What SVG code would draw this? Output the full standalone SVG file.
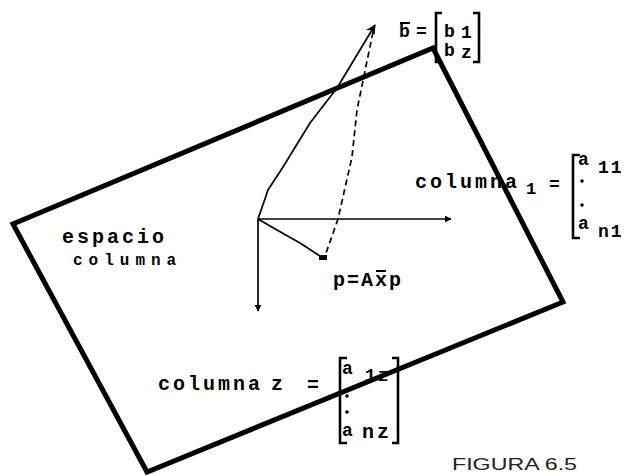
<svg xmlns="http://www.w3.org/2000/svg" width="628" height="476" viewBox="0 0 628 476">
<defs>
<style>
.t{font-family:"Liberation Mono","DejaVu Sans Mono",monospace;font-weight:bold;fill:#000}
.big{font-size:20px;letter-spacing:3px}
.ent{font-size:18px;letter-spacing:2px}
.edge{fill:none;stroke:#000;stroke-width:5;stroke-linejoin:miter}
.vec{fill:none;stroke:#000;stroke-width:1.7;stroke-linejoin:round}
.dash{fill:none;stroke:#000;stroke-width:1.7;stroke-dasharray:6 4}
.brk{fill:none;stroke:#000;stroke-width:2.6}
.fig{font-family:"Liberation Sans",Arial,sans-serif;font-size:16px;fill:#222}
</style>
<marker id="ah" viewBox="0 0 10 10" refX="9" refY="5" markerWidth="7" markerHeight="7" markerUnits="userSpaceOnUse" orient="auto">
<path d="M0,0 L10,5 L0,10 Z" fill="#000"/>
</marker>
<marker id="ah2" viewBox="0 0 10 10" refX="9" refY="5" markerWidth="10" markerHeight="10" markerUnits="userSpaceOnUse" orient="auto">
<path d="M0,0 L10,5 L0,10 L3,5 Z" fill="#000"/>
</marker>
</defs>

<g id="plane">
<path class="edge" d="M433,48 L563,302 L147,472 L13,224 Z"/>
</g>

<g id="connectors">
<path class="vec" d="M258,219 L268,190 L283,167 L310,123 L337,88 L375,25" marker-end="url(#ah2)"/>
<path class="dash" d="M373,32 L357,110 L352,157 L338,219 L325,256"/>
<path class="vec" d="M258,219 L277,230 L300,243 L323,258"/>
<path class="vec" d="M258,219 L451,219" marker-end="url(#ah)"/>
<path class="vec" d="M258,219 L258,311" marker-end="url(#ah)"/>
<rect x="319" y="255" width="8" height="5" fill="#000"/>
</g>

<g id="label-b">
<text class="t" x="399" y="37" font-size="18">b</text>
<line x1="400" y1="23" x2="410" y2="23" stroke="#000" stroke-width="2"/>
<text class="t" x="416" y="37" font-size="18">=</text>
<path class="brk" d="M442,13 L436,13 L436,62 L442,62"/>
<path class="brk" d="M473,13 L479,13 L479,62 L473,62"/>
<text class="t" x="444" y="37" font-size="18">b</text>
<text class="t" x="461" y="38" font-size="18">1</text>
<text class="t" x="444" y="56" font-size="18">b</text>
<text class="t" x="461" y="58" font-size="18">z</text>
</g>

<g id="label-espacio">
<text class="t big" x="62" y="243">espacio</text>
<text class="t" x="73" y="265" font-size="16" letter-spacing="6">columna</text>
</g>

<g id="label-p">
<text class="t" x="333" y="286" font-size="20" letter-spacing="2">p=Axp</text>
<line x1="376" y1="271" x2="386" y2="271" stroke="#000" stroke-width="2"/>
</g>

<g id="label-col1">
<text class="t big" x="415" y="188">columna</text>
<text class="t" x="526" y="194" font-size="17">1</text>
<text class="t" x="549" y="190" font-size="18">=</text>
<path class="brk" d="M580,155 L573,155 L573,238 L580,238"/>
<text class="t" x="578" y="165" font-size="18">a</text>
<text class="t ent" x="598" y="173">11</text>
<circle cx="582" cy="181" r="1.8"/>
<circle cx="582" cy="205" r="1.8"/>
<text class="t" x="578" y="229" font-size="18">a</text>
<text class="t ent" x="598" y="237">n1</text>
</g>

<g id="label-col2">
<text class="t big" x="158" y="390">columna</text>
<text class="t" x="271" y="390" font-size="20">z</text>
<text class="t" x="307" y="391" font-size="20">=</text>
<path class="brk" d="M347,358 L340,358 L340,443 L347,443"/>
<path class="brk" d="M392,358 L398,358 L398,443 L392,443"/>
<text class="t" x="342" y="374" font-size="18">a</text>
<text class="t ent" x="365" y="381">1z</text>
<circle cx="347" cy="396" r="1.8"/>
<circle cx="347" cy="412" r="1.8"/>
<text class="t" x="342" y="436" font-size="18">a</text>
<text class="t" x="362" y="438" font-size="20" letter-spacing="3">nz</text>
</g>

<g id="caption">
<text class="fig" x="452" y="470" textLength="125" lengthAdjust="spacingAndGlyphs">FIGURA 6.5</text>
</g>
</svg>
